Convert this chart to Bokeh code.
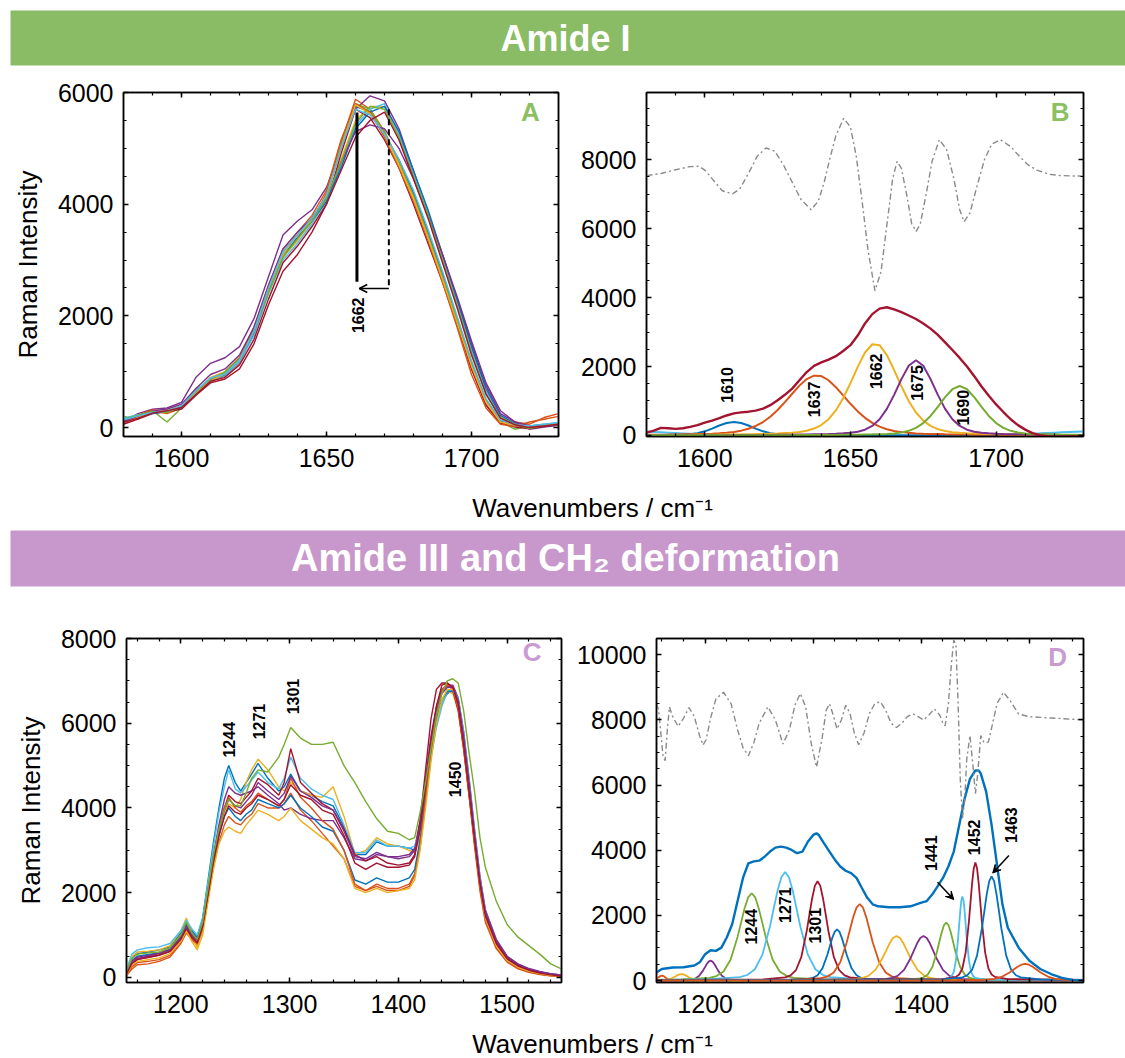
import numpy as np
from bokeh.plotting import figure
from bokeh.layouts import column, row
from bokeh.models import Range1d, LinearAxis, FixedTicker, Arrow, VeeHead, OpenHead, CustomJSTickFormatter
from bokeh.core.properties import value
from bokeh.embed import file_html
from bokeh.resources import INLINE

FONT = "Liberation Sans"
BLUE, ORANGE, YELLOW, PURPLE = "#0072BD", "#D95319", "#EDB120", "#7E2F8E"
GREEN, CYAN, DARKRED = "#77AC30", "#4DBEEE", "#A2142F"
CYCLE = [BLUE, ORANGE, YELLOW, PURPLE, GREEN, CYAN, DARKRED]
BANNER_GREEN = "#89bc65"
BANNER_PURPLE = "#c897cb"
LETTER_GREEN = "#8bc063"
LETTER_PURPLE = "#c99bd0"
DERIV_GRAY = "#8a8a8a"

# ---------------- Panel A : Amide I spectra ----------------
a_wn = list(range(1580, 1731, 5))
a01 = [150, 200, 260, 300, 380, 650, 880, 950, 1200, 1750, 2500, 3150, 3450, 3750, 4150, 5000, 5750, 5650, 5250, 4800, 4200, 3500, 2750, 1950, 1150, 500, 120, 30, 10, 40, 70]
a02 = [80, 180, 300, 250, 350, 600, 850, 920, 1150, 1700, 2450, 3050, 3400, 3700, 4200, 5100, 5880, 5700, 5300, 4750, 4150, 3450, 2700, 1900, 1050, 420, 80, 100, 60, 180, 250]
a03 = [120, 220, 280, 320, 400, 650, 900, 1000, 1250, 1700, 2400, 3050, 3350, 3700, 4100, 4800, 5500, 5750, 5750, 5200, 4500, 3800, 3050, 2250, 1400, 650, 200, 50, 20, 40, 80]
a04 = [100, 250, 330, 350, 450, 900, 1150, 1250, 1450, 1950, 2700, 3450, 3700, 3900, 4300, 5000, 5700, 5940, 5850, 5350, 4600, 3850, 3100, 2300, 1500, 750, 250, 100, -30, 10, 40]
a05 = [200, 150, 300, 100, 350, 700, 800, 1000, 1250, 1750, 2450, 3150, 3450, 3750, 4150, 5050, 5800, 5700, 5300, 4750, 4150, 3450, 2700, 1950, 1150, 500, 100, -30, 30, 60, 40]
a06 = [170, 230, 270, 280, 370, 620, 850, 930, 1180, 1650, 2400, 3000, 3300, 3650, 4050, 4700, 5400, 5700, 5800, 5250, 4550, 3850, 3050, 2250, 1400, 650, 180, 60, 20, 50, 90]
a07 = [60, 150, 250, 280, 330, 580, 800, 870, 1050, 1500, 2200, 2800, 3100, 3500, 4000, 4900, 5700, 5550, 5150, 4650, 4000, 3300, 2600, 1850, 1050, 400, 80, 10, -20, 20, 50]
a08 = [130, 200, 250, 290, 360, 600, 860, 950, 1220, 1700, 2450, 3100, 3400, 3700, 4050, 4650, 5350, 5650, 5750, 5300, 4600, 3900, 3100, 2300, 1450, 700, 220, 70, 30, 50, 60]
a09 = [100, 220, 320, 280, 380, 640, 880, 980, 1250, 1800, 2550, 3200, 3500, 3800, 4250, 5150, 5800, 5650, 5200, 4650, 4050, 3350, 2600, 1800, 950, 350, 60, 20, 100, 150, 200]
a10 = [90, 180, 270, 310, 370, 620, 840, 960, 1220, 1720, 2480, 3100, 3450, 3720, 4150, 5000, 5780, 5620, 5250, 4700, 4100, 3400, 2650, 1880, 1100, 450, 100, 40, 20, 50, 70]
a11 = [110, 210, 300, 330, 420, 700, 950, 1050, 1300, 1800, 2550, 3200, 3500, 3750, 4100, 4750, 5300, 5420, 5350, 5000, 4450, 3800, 3100, 2350, 1550, 800, 300, 100, 30, 30, 50]
a12 = [150, 220, 290, 270, 380, 650, 870, 990, 1230, 1720, 2420, 3050, 3380, 3700, 4100, 4750, 5450, 5750, 5700, 5200, 4500, 3800, 3000, 2200, 1350, 600, 180, 60, -20, 40, 60]
a13 = [140, 210, 270, 300, 390, 660, 890, 960, 1210, 1730, 2500, 3150, 3450, 3750, 4150, 5000, 5700, 5600, 5250, 4800, 4250, 3550, 2800, 2000, 1200, 520, 140, 50, 30, 60, 90]
a14 = [90, 170, 260, 300, 360, 590, 830, 900, 1120, 1580, 2300, 2950, 3250, 3600, 4000, 4600, 5200, 5500, 5650, 5150, 4450, 3750, 2950, 2150, 1300, 600, 170, 50, 0, 30, 60]
a_spectra = [a01, a02, a03, a04, a05, a06, a07, a08, a09, a10, a11, a12, a13, a14]
a_marker_x = [1660.5, 1671.5]
a_marker_top = [5640, 5700]
a_marker_bottom = [2610, 2550]
a_label = ["1662"]

# ---------------- Panel B : Amide I band fit ----------------
b_wn = [1580 + 2.5 * k for k in range(61)]
b_sum = [80, 140, 220, 210, 190, 210, 250, 300, 370, 430, 500, 580, 640, 670, 690, 720, 780, 880, 1020, 1180,
         1360, 1600, 1840, 2020, 2120, 2200, 2300, 2450, 2620, 2900, 3250, 3520, 3680, 3720, 3660, 3580, 3480, 3380, 3250, 3100,
         2920, 2700, 2480, 2250, 2000, 1720, 1420, 1150, 900, 680, 470, 300, 170, 70, 10, -20, -30, -30, -20, -20, -10]
b_1610 = [5, 5, 6, 8, 12, 20, 35, 65, 120, 200, 290, 360, 390, 360, 290, 200, 120, 65, 35, 20,
          12, 8, 6, 5, 4, 4, 3, 3, 3, 2, 2, 2, 2, 2, 2, 2, 2, 2, 2, 1,
          1, 1, 1, 1, 1, 1, 1, 1, 1, 1, 1, 1, 1, 1, 1, 1, 1, 1, 1, 1, 1]
b_1637 = [19, 21, 23, 25, 28, 32, 36, 41, 46, 52, 61, 80, 103, 140, 194, 275, 389, 544, 739, 967,
          1211, 1446, 1635, 1735, 1724, 1602, 1401, 1162, 919, 698, 511, 364, 256, 181, 131, 97, 77, 59, 51, 45,
          40, 35, 31, 28, 25, 23, 21, 19, 18, 17, 16, 15, 14, 13, 12, 12, 11, 10, 10, 9, 9]
b_1662 = [12, 13, 14, 15, 16, 17, 18, 20, 21, 23, 25, 28, 30, 33, 37, 41, 46, 52, 58, 69,
          80, 101, 139, 200, 302, 471, 727, 1081, 1517, 1989, 2406, 2646, 2619, 2333, 1896, 1426, 1001, 667, 431, 277,
          184, 131, 96, 77, 66, 57, 51, 45, 40, 36, 32, 29, 26, 24, 22, 20, 19, 17, 16, 15, 14]
b_1675 = [5, 6, 6, 6, 7, 7, 7, 8, 8, 9, 9, 10, 10, 11, 12, 13, 14, 16, 18, 20,
          22, 25, 28, 33, 37, 43, 51, 61, 78, 110, 168, 277, 471, 772, 1178, 1635, 2021, 2180, 2021, 1635,
          1178, 772, 471, 277, 168, 110, 78, 61, 51, 43, 37, 33, 28, 25, 22, 20, 18, 16, 14, 13, 12]
b_1690 = [3, 3, 4, 4, 4, 4, 4, 5, 5, 5, 5, 6, 6, 6, 7, 7, 7, 8, 8, 9,
          9, 10, 11, 12, 14, 15, 17, 19, 21, 24, 28, 32, 37, 46, 58, 87, 135, 220, 360, 565,
          828, 1111, 1342, 1435, 1342, 1111, 828, 565, 360, 220, 135, 87, 58, 46, 37, 32, 28, 24, 21, 19, 17]
b_base = [110, 100, 90, 80, 70, 60, 50, 40, 30, 22, 15, 10, 8, 6, 5, 4, 4, 3, 3, 3,
          3, 3, 3, 3, 3, 3, 3, 3, 3, 3, 3, 3, 3, 3, 3, 3, 3, 3, 3, 3,
          4, 4, 5, 6, 7, 9, 11, 14, 18, 23, 29, 36, 44, 53, 62, 72, 82, 92, 101, 110, 118]
b_deriv_x = [1580, 1585, 1590, 1595, 1598, 1600, 1603, 1606, 1609.5, 1612, 1615, 1618, 1621, 1624, 1627, 1630, 1633, 1636.5, 1639, 1641,
             1643, 1645, 1647.7, 1650, 1652, 1654, 1656, 1658.4, 1660.5, 1662.5, 1664.5, 1666, 1667.5, 1669.5, 1671, 1672.6, 1674, 1676, 1678, 1680.5,
             1683, 1685.5, 1687.5, 1689, 1691, 1693.5, 1696, 1698.5, 1701.5, 1705, 1708, 1711, 1714, 1718, 1722, 1726, 1730]
b_deriv_y = [7540, 7600, 7710, 7800, 7810, 7700, 7400, 7100, 7010, 7150, 7600, 8100, 8340, 8250, 7850, 7350, 6850, 6550, 6800, 7350,
             8050, 8700, 9200, 8950, 8100, 6800, 5400, 4200, 4750, 6100, 7450, 7950, 7750, 6900, 6150, 5920, 6150, 7000, 7950, 8580,
             8300, 7450, 6550, 6200, 6450, 7250, 8000, 8450, 8580, 8380, 8100, 7850, 7700, 7580, 7540, 7530, 7525]
b_labels = ["1610", "1637", "1662", "1675", "1690"]
b_label_x = [1607.5, 1637.6, 1658.7, 1672.8, 1688.5]
b_label_y = [1465, 1048, 1862, 1523, 805]

# ---------------- Panel C : Amide III / CH2 spectra ----------------
c_wn = [1150, 1155, 1160, 1170, 1180, 1190, 1200, 1205, 1210, 1215, 1220, 1225, 1230, 1235, 1240, 1244, 1250, 1255, 1260, 1265,
        1271, 1280, 1290, 1295, 1301, 1310, 1320, 1330, 1340, 1350, 1360, 1370, 1380, 1390, 1400, 1410, 1415, 1420, 1425, 1430,
        1435, 1440, 1445, 1450, 1455, 1460, 1465, 1470, 1475, 1480, 1490, 1500, 1510, 1520, 1530, 1540, 1550]
c01 = [150, 450, 560, 600, 650, 720, 1050, 1300, 1100, 950, 1400, 2300, 3200, 4000, 4700, 5000, 4600, 4400, 4600, 4800,
       5050, 4700, 4400, 4500, 4800, 4400, 4300, 4150, 4050, 3550, 2900, 2900, 3200, 3100, 3100, 3050, 3000, 3450, 4300, 5300,
       6000, 6500, 6700, 6800, 6500, 5700, 4600, 3400, 2300, 1500, 850, 480, 300, 190, 130, 80, 50]
c02 = [50, 200, 300, 320, 380, 480, 800, 1050, 900, 750, 1100, 1850, 2650, 3200, 3600, 3800, 3650, 3600, 3750, 3850,
       4100, 4000, 4000, 4100, 4350, 3950, 3700, 3400, 3100, 2800, 2150, 2050, 2200, 2100, 2100, 2200, 2450, 3100, 4100, 5300,
       6200, 6750, 6900, 6850, 6400, 5500, 4400, 3200, 2100, 1350, 700, 380, 220, 130, 80, 40, 20]
c03 = [120, 500, 600, 620, 650, 750, 1100, 1400, 1050, 700, 1150, 2050, 2900, 3500, 3900, 4100, 4000, 4200, 4600, 4900,
       5150, 4900, 4500, 4400, 4600, 4400, 4300, 4250, 4500, 3800, 2900, 3000, 3300, 3150, 3100, 3000, 2950, 3300, 4200, 5200,
       6000, 6500, 6750, 6700, 6300, 5400, 4300, 3200, 2150, 1400, 780, 420, 260, 160, 100, 60, 30]
c04 = [80, 350, 450, 500, 560, 650, 980, 1250, 1050, 900, 1300, 2100, 2900, 3600, 4200, 4500, 4350, 4300, 4350, 4400,
       4500, 4300, 4100, 3950, 4000, 3850, 3750, 3700, 3700, 3300, 2800, 2750, 2900, 2850, 2850, 2900, 3050, 3700, 4700, 5700,
       6400, 6800, 6900, 6900, 6600, 5800, 4700, 3500, 2400, 1600, 900, 500, 320, 210, 140, 90, 60]
c05 = [150, 450, 550, 580, 600, 700, 1000, 1300, 1050, 900, 1300, 2100, 2900, 3500, 3950, 4200, 4050, 4050, 4350, 4700,
       4900, 4850, 5200, 5500, 5900, 5650, 5500, 5500, 5550, 5000, 4600, 4150, 3750, 3450, 3400, 3250, 3300, 3900, 4600, 5400,
       6200, 6700, 7000, 7050, 6950, 6300, 5300, 4400, 3300, 2600, 1800, 1250, 950, 750, 550, 320, 200]
c06 = [200, 550, 650, 700, 720, 800, 1100, 1350, 1150, 1000, 1400, 2250, 3100, 3900, 4500, 4900, 4450, 4350, 4500, 4650,
       4850, 4600, 4450, 4700, 5200, 4700, 4450, 4300, 4200, 3600, 2950, 2950, 3250, 3100, 3100, 3050, 3100, 3500, 4300, 5200,
       5900, 6400, 6750, 6800, 6600, 5800, 4700, 3500, 2350, 1550, 850, 450, 290, 180, 120, 70, 40]
c07 = [50, 300, 420, 480, 530, 620, 920, 1200, 950, 800, 1200, 2000, 2800, 3500, 4000, 4300, 4150, 4100, 4250, 4400,
       4700, 4550, 4300, 4600, 5400, 4600, 4350, 4100, 3950, 3500, 2900, 2750, 2850, 2700, 2650, 2700, 2900, 3700, 4900, 6100,
       6800, 6950, 6950, 6800, 6300, 5400, 4300, 3200, 2200, 1500, 850, 470, 290, 180, 110, 60, 30]
c08 = [120, 400, 500, 540, 580, 660, 950, 1200, 1000, 880, 1250, 2000, 2750, 3350, 3800, 4000, 3800, 3700, 3850, 3950,
       4200, 4100, 4000, 4100, 4300, 4000, 3800, 3550, 3450, 3000, 2300, 2200, 2350, 2250, 2250, 2350, 2550, 3250, 4250, 5300,
       6100, 6550, 6750, 6750, 6450, 5600, 4500, 3300, 2200, 1450, 780, 420, 260, 160, 100, 60, 30]
c09 = [30, 250, 350, 380, 420, 520, 850, 1100, 950, 800, 1150, 1950, 2800, 3500, 4000, 4250, 4000, 3900, 4050, 4150,
       4350, 4200, 4050, 4200, 4700, 4250, 4000, 3700, 3500, 3000, 2200, 2050, 2150, 2050, 2050, 2150, 2400, 3100, 4200, 5400,
       6300, 6800, 6900, 6800, 6350, 5400, 4300, 3100, 2050, 1300, 680, 360, 200, 120, 70, 40, 20]
c10 = [60, 300, 380, 420, 460, 560, 850, 1100, 850, 650, 1000, 1800, 2550, 3150, 3450, 3550, 3450, 3400, 3600, 3750,
       3950, 3850, 3700, 3800, 4000, 3700, 3500, 3300, 3150, 2800, 2100, 2000, 2100, 2000, 2050, 2100, 2300, 3000, 4000, 5100,
       6000, 6550, 6800, 6800, 6500, 5600, 4500, 3300, 2200, 1400, 750, 400, 240, 150, 90, 50, 30]
c11 = [100, 380, 480, 520, 570, 660, 960, 1230, 1000, 870, 1250, 2050, 2850, 3500, 3950, 4200, 4050, 4000, 4150, 4300,
       4600, 4400, 4200, 4350, 4750, 4400, 4250, 4050, 3950, 3450, 2850, 2800, 2950, 2850, 2800, 2850, 3000, 3600, 4600, 5600,
       6300, 6700, 6850, 6850, 6550, 5700, 4600, 3400, 2300, 1550, 880, 490, 310, 200, 130, 80, 50]
c12 = [80, 330, 430, 470, 520, 610, 900, 1150, 950, 820, 1200, 1950, 2750, 3350, 3800, 4050, 3900, 3850, 4000, 4100,
       4300, 4200, 4050, 4200, 4550, 4300, 4200, 3950, 3850, 3350, 2700, 2550, 2700, 2600, 2600, 2650, 2850, 3500, 4500, 5600,
       6400, 6900, 6950, 6850, 6450, 5500, 4400, 3250, 2200, 1450, 800, 440, 270, 170, 100, 60, 30]
c_spectra = [c01, c02, c03, c04, c06, c07, c08, c09, c10, c11, c12, c05]
c_colors = [BLUE, ORANGE, YELLOW, PURPLE, CYAN, DARKRED, BLUE, ORANGE, YELLOW, PURPLE, DARKRED, GREEN]
c_labels = ["1244", "1271", "1301", "1450"]
c_label_x = [1244, 1272, 1303, 1452]
c_label_y = [5610, 6040, 6630, 4675]

# ---------------- Panel D : Amide III / CH2 band fit ----------------
d_sum_x = [1155, 1160, 1170, 1180, 1190, 1195, 1200, 1205, 1210, 1215, 1220, 1225, 1230, 1235, 1240, 1245, 1250, 1255, 1260, 1265,
           1270, 1275, 1280, 1285, 1290, 1295, 1300, 1303, 1305, 1310, 1315, 1320, 1325, 1330, 1335, 1340, 1345, 1350, 1355, 1360,
           1370, 1380, 1390, 1400, 1405, 1410, 1415, 1420, 1425, 1430, 1435, 1440, 1445, 1450, 1453, 1455, 1460, 1465, 1470, 1475,
           1480, 1490, 1500, 1510, 1520, 1530, 1540, 1550]
d_sum_y = [250, 355, 400, 410, 460, 560, 810, 930, 910, 1010, 1320, 1730, 2440, 3150, 3600, 3660, 3680, 3800, 3960, 4080,
           4110, 4080, 4010, 3910, 3960, 4260, 4470, 4520, 4470, 4210, 3960, 3710, 3500, 3370, 3300, 3150, 2840, 2540, 2340, 2280,
           2250, 2250, 2280, 2390, 2440, 2640, 2890, 3150, 3500, 3960, 4770, 5580, 6190, 6450, 6450, 6350, 5790, 4770, 3550, 2340,
           1620, 1010, 610, 355, 200, 80, 20, 0]
d_deriv_x = [1155, 1157, 1159, 1161, 1163, 1165, 1167, 1170, 1175, 1180, 1185, 1190, 1195, 1198, 1201, 1205, 1210, 1217, 1224, 1230,
             1235, 1240, 1245, 1250, 1258, 1265, 1272, 1278, 1283, 1288, 1293, 1298, 1303, 1308, 1312, 1315, 1318, 1322, 1326, 1330,
             1334, 1338, 1342, 1347, 1352, 1357, 1362, 1367, 1372, 1377, 1382, 1387, 1392, 1397, 1402, 1407, 1412, 1417, 1420, 1422,
             1425, 1428, 1430, 1432, 1434, 1436, 1438, 1440, 1442, 1445, 1448, 1450, 1452, 1455, 1458, 1462, 1466, 1470, 1476, 1482,
             1490, 1500, 1510, 1520, 1530, 1540, 1550]
d_deriv_y = [8500, 8300, 7600, 6900, 6750, 7700, 8400, 8100, 7800, 8050, 8380, 8100, 7500, 7230, 7400, 8050, 8650, 8850, 8500, 7700,
             7150, 6900, 7300, 7900, 8400, 8000, 7260, 7700, 8450, 8810, 8400, 7300, 6550, 7400, 8300, 8500, 8200, 7720, 8000, 8450,
             8200, 7600, 7240, 7600, 8200, 8500, 8560, 8300, 7900, 7770, 7900, 8100, 8190, 8100, 8000, 8150, 8340, 8150, 7900, 7820,
             8500, 9800, 10450, 10300, 8500, 6200, 4980, 5500, 6800, 7520, 6500, 5740, 6300, 7520, 7300, 7320, 7900, 8500, 8850, 8600,
             8180, 8100, 8080, 8060, 8040, 8020, 8000]
d_b01_x = [1140, 1148, 1150, 1152, 1154, 1156, 1157, 1158, 1159, 1160, 1161, 1162, 1163, 1164, 1166, 1168, 1170, 1172, 1180]
d_b01_y = [2, 5, 8, 16, 36, 75, 100, 124, 143, 150, 143, 124, 100, 75, 36, 16, 8, 5, 2]
d_b02_x = [1143, 1157, 1160.5, 1164, 1167.5, 1171, 1172.8, 1174.5, 1176.3, 1178, 1179.8, 1181.5, 1183.3, 1185, 1188.5, 1192, 1195.5, 1199, 1213]
d_b02_y = [2, 6, 10, 21, 48, 100, 133, 166, 191, 200, 191, 166, 133, 100, 48, 21, 10, 6, 2]
d_b03_x = [1170, 1184, 1187.5, 1191, 1194.5, 1198, 1199.8, 1201.5, 1203.3, 1205, 1206.8, 1208.5, 1210.3, 1212, 1215.5, 1219, 1222.5, 1226, 1240]
d_b03_y = [7, 19, 31, 63, 146, 305, 406, 506, 581, 610, 581, 506, 406, 305, 146, 63, 31, 19, 7]
d_b04_x = [1178, 1204, 1210.5, 1217, 1223.5, 1230, 1233.3, 1236.5, 1239.8, 1243, 1246.3, 1249.5, 1252.8, 1256, 1262.5, 1269, 1275.5, 1282, 1308]
d_b04_y = [32, 83, 137, 279, 641, 1340, 1785, 2222, 2554, 2680, 2554, 2222, 1785, 1340, 641, 279, 137, 83, 32]
d_b05_x = [1204, 1232, 1239, 1246, 1253, 1260, 1263.5, 1267, 1270.5, 1274, 1277.5, 1281, 1284.5, 1288, 1295, 1302, 1309, 1316, 1344]
d_b05_y = [40, 103, 170, 346, 796, 1665, 2218, 2761, 3173, 3330, 3173, 2761, 2218, 1665, 796, 346, 170, 103, 40]
d_b06_x = [1254, 1274, 1279, 1284, 1289, 1294, 1296.5, 1299, 1301.5, 1304, 1306.5, 1309, 1311.5, 1314, 1319, 1324, 1329, 1334, 1354]
d_b06_y = [37, 95, 156, 317, 729, 1525, 2031, 2528, 2907, 3050, 2907, 2528, 2031, 1525, 729, 317, 156, 95, 37]
d_b07_x = [1277, 1295, 1299.5, 1304, 1308.5, 1313, 1315.3, 1317.5, 1319.8, 1322, 1324.3, 1326.5, 1328.8, 1331, 1335.5, 1340, 1344.5, 1349, 1367]
d_b07_y = [19, 49, 80, 163, 375, 785, 1046, 1302, 1496, 1570, 1496, 1302, 1046, 785, 375, 163, 80, 49, 19]
d_b08_x = [1283, 1307, 1313, 1319, 1325, 1331, 1334, 1337, 1340, 1343, 1346, 1349, 1352, 1355, 1361, 1367, 1373, 1379, 1403]
d_b08_y = [28, 73, 120, 244, 562, 1175, 1565, 1948, 2240, 2350, 2240, 1948, 1565, 1175, 562, 244, 120, 73, 28]
d_b09_x = [1312, 1338, 1344.5, 1351, 1357.5, 1364, 1367.3, 1370.5, 1373.8, 1377, 1380.3, 1383.5, 1386.8, 1390, 1396.5, 1403, 1409.5, 1416, 1442]
d_b09_y = [16, 42, 70, 142, 327, 685, 912, 1136, 1306, 1370, 1306, 1136, 912, 685, 327, 142, 70, 42, 16]
d_b10_x = [1342, 1366, 1372, 1378, 1384, 1390, 1393, 1396, 1399, 1402, 1405, 1408, 1411, 1414, 1420, 1426, 1432, 1438, 1462]
d_b10_y = [16, 42, 70, 142, 327, 685, 912, 1136, 1306, 1370, 1306, 1136, 912, 685, 327, 142, 70, 42, 16]
d_b11_x = [1380.5, 1397.5, 1401.8, 1406, 1410.3, 1414.5, 1416.6, 1418.8, 1420.9, 1423, 1425.1, 1427.3, 1429.4, 1431.5, 1435.8, 1440, 1444.3, 1448.5, 1465.5]
d_b11_y = [21, 55, 91, 185, 425, 890, 1185, 1476, 1696, 1780, 1696, 1476, 1185, 890, 425, 185, 91, 55, 21]
d_b12_x = [1418, 1426, 1428, 1430, 1432, 1434, 1435, 1436, 1437, 1438, 1439, 1440, 1441, 1442, 1444, 1446, 1448, 1450, 1458]
d_b12_y = [31, 80, 132, 268, 617, 1290, 1718, 2139, 2459, 2580, 2459, 2139, 1718, 1290, 617, 268, 132, 80, 31]
d_b13_x = [1420, 1432, 1435, 1438, 1441, 1444, 1445.5, 1447, 1448.5, 1450, 1451.5, 1453, 1454.5, 1456, 1459, 1462, 1465, 1468, 1480]
d_b13_y = [43, 112, 185, 376, 865, 1810, 2411, 3001, 3450, 3620, 3450, 3001, 2411, 1810, 865, 376, 185, 112, 43]
d_b14_x = [1420, 1438, 1442.5, 1447, 1451.5, 1456, 1458.3, 1460.5, 1462.8, 1465, 1467.3, 1469.5, 1471.8, 1474, 1478.5, 1483, 1487.5, 1492, 1510]
d_b14_y = [38, 99, 163, 333, 765, 1600, 2131, 2653, 3050, 3200, 3050, 2653, 2131, 1600, 765, 333, 163, 99, 38]
d_b15_x = [1426, 1454, 1461, 1468, 1475, 1482, 1485.5, 1489, 1492.5, 1496, 1499.5, 1503, 1506.5, 1510, 1517, 1524, 1531, 1538, 1566]
d_b15_y = [6, 16, 26, 53, 122, 255, 340, 423, 486, 510, 486, 423, 340, 255, 122, 53, 26, 16, 6]
d_bands = [(d_b01_x, d_b01_y), (d_b02_x, d_b02_y), (d_b03_x, d_b03_y), (d_b04_x, d_b04_y), (d_b05_x, d_b05_y),
           (d_b06_x, d_b06_y), (d_b07_x, d_b07_y), (d_b08_x, d_b08_y), (d_b09_x, d_b09_y), (d_b10_x, d_b10_y),
           (d_b11_x, d_b11_y), (d_b12_x, d_b12_y), (d_b13_x, d_b13_y), (d_b14_x, d_b14_y), (d_b15_x, d_b15_y)]
d_labels = ["1244", "1271", "1301", "1441", "1452", "1463"]
d_label_x = [1242, 1274, 1302, 1409, 1449, 1483]
d_label_y = [1655, 2315, 1685, 3909, 4396, 4772]


# ---------------- helpers ----------------
def panel(frame_w, frame_h, bl, br, bt, bb, xr, yr, xticks, xminor, yticks, yminor, ylabel=None):
    p = figure(frame_width=frame_w, frame_height=frame_h,
               x_range=Range1d(*xr), y_range=Range1d(*yr),
               min_border_left=bl, min_border_right=br, min_border_top=bt, min_border_bottom=bb,
               x_axis_location=None, y_axis_location=None,
               toolbar_location=None, output_backend="svg")
    p.grid.visible = False
    p.outline_line_color = "black"
    p.outline_line_width = 1.5
    for side in ("below", "above", "left", "right"):
        is_x = side in ("below", "above")
        ax = LinearAxis(ticker=FixedTicker(ticks=xticks if is_x else yticks,
                                           minor_ticks=xminor if is_x else yminor))
        ax.axis_line_color = "black"
        ax.axis_line_width = 1.5
        ax.major_tick_in = 5
        ax.major_tick_out = 0
        ax.minor_tick_in = 3
        ax.minor_tick_out = 0
        ax.major_tick_line_color = "black"
        ax.minor_tick_line_color = "black"
        ax.major_tick_line_width = 1.5
        ax.minor_tick_line_width = 1.2
        if side in ("below", "left"):
            ax.major_label_text_font = FONT
            ax.major_label_text_font_size = "25px"
            ax.major_label_text_color = "black"
            ax.major_label_standoff = 12 if side == "below" else 10
            if side == "left" and ylabel:
                ax.axis_label = ylabel
                ax.axis_label_text_font = FONT
                ax.axis_label_text_font_size = "26px"
                ax.axis_label_text_font_style = "normal"
                ax.axis_label_text_color = "black"
                ax.axis_label_standoff = 12
        else:
            ax.formatter = CustomJSTickFormatter(code="return '';")
            ax.major_label_text_font_size = "1px"
            ax.major_label_standoff = 0
        p.add_layout(ax, side)
    return p


def vlabels(p, xs, ys, texts):
    p.text(x=xs, y=ys, text=texts, angle=np.pi / 2, text_align="center", text_baseline="middle",
           text_font=value(FONT), text_font_style="bold", text_font_size="16px", text_color="black")


def letter(p, x, y, t, color):
    p.text(x=[x], y=[y], text=[t], text_align="center", text_baseline="middle",
           text_font=value(FONT), text_font_style="bold", text_font_size="26px", text_color=color)


def strip(h):
    f = figure(width=1125, height=h, x_range=Range1d(0, 1125), y_range=Range1d(h, 0),
               min_border=0, toolbar_location=None, output_backend="svg",
               x_axis_location=None, y_axis_location=None)
    f.grid.visible = False
    f.outline_line_color = None
    return f


DERIV_DASH = "6 3 2 3"

# ---------------- banner 1 ----------------
top = strip(80)
top.quad(left=[10], right=[1125], top=[10], bottom=[65], fill_color=BANNER_GREEN, line_color=None)
top.text(x=[565], y=[38], text=["Amide I"], text_align="center", text_baseline="middle",
         text_font=value(FONT), text_font_style="bold", text_font_size="36px", text_color="white")

# ---------------- Panel A ----------------
pA = panel(435, 344, 123, 12, 12, 44, (1580, 1730), (-160, 6000),
           [1600, 1650, 1700], list(range(1580, 1731, 10)),
           [0, 2000, 4000, 6000], list(range(0, 6001, 500)), "Raman Intensity")
for i, ys in enumerate(a_spectra):
    pA.line(a_wn, ys, line_color=CYCLE[i % 7], line_width=1.4)
pA.segment(x0=a_marker_x[:1], y0=a_marker_bottom[:1], x1=a_marker_x[:1], y1=a_marker_top[:1],
           line_color="black", line_width=3)
pA.segment(x0=a_marker_x[1:], y0=a_marker_bottom[1:], x1=a_marker_x[1:], y1=a_marker_top[1:],
           line_color="black", line_width=2, line_dash="6 4")
pA.add_layout(Arrow(end=OpenHead(size=8, line_color="black", line_width=1.5),
                    x_start=a_marker_x[1], y_start=2490, x_end=a_marker_x[0] + 0.8, y_end=2490,
                    line_color="black", line_width=1.5))
vlabels(pA, [1661], [2010], a_label)
letter(pA, 1720.3, 5642, "A", LETTER_GREEN)

# ---------------- Panel B ----------------
pB = panel(437, 344, 76, 42, 12, 44, (1580, 1730), (-30, 9950),
           [1600, 1650, 1700], list(range(1580, 1731, 10)),
           [0, 2000, 4000, 6000, 8000], list(range(0, 9951, 500)))
for ys, col in [(b_base, CYAN), (b_1610, BLUE), (b_1637, ORANGE), (b_1662, YELLOW), (b_1675, PURPLE), (b_1690, GREEN)]:
    pB.line(b_wn, ys, line_color=col, line_width=2)
pB.line(b_wn, b_sum, line_color=DARKRED, line_width=2.4)
pB.line(b_deriv_x, b_deriv_y, line_color=DERIV_GRAY, line_width=1.4, line_dash=DERIV_DASH)
vlabels(pB, b_label_x, b_label_y, b_labels)
letter(pB, 1722, 9370, "B", LETTER_GREEN)

# ---------------- banner 2 + first x label ----------------
mid = strip(120)
mid.text(x=[592], y=[27], text=["Wavenumbers / cm\u207b\u00b9"], text_align="center", text_baseline="middle",
         text_font=value(FONT), text_font_size="26px", text_color="black")
mid.quad(left=[10], right=[1125], top=[50], bottom=[106], fill_color=BANNER_PURPLE, line_color=None)
mid.text(x=[565], y=[77], text=["Amide III and CH\u2082 deformation"], text_align="center", text_baseline="middle",
         text_font=value(FONT), text_font_style="bold", text_font_size="38px", text_color="white")

# ---------------- Panel C ----------------
pC = panel(435, 344, 126, 7, 38, 44, (1150, 1550), (-120, 8000),
           [1200, 1300, 1400, 1500], list(range(1160, 1551, 20)),
           [0, 2000, 4000, 6000, 8000], list(range(0, 8001, 500)), "Raman Intensity")
for ys, col in zip(c_spectra, c_colors):
    pC.line(c_wn, ys, line_color=col, line_width=1.4)
vlabels(pC, c_label_x, c_label_y, c_labels)
letter(pC, 1523, 7670, "C", LETTER_PURPLE)

# ---------------- Panel D ----------------
pD = panel(427, 344, 88, 42, 38, 44, (1155, 1550), (-60, 10500),
           [1200, 1300, 1400, 1500], list(range(1160, 1551, 20)),
           [0, 2000, 4000, 6000, 8000, 10000], list(range(0, 10501, 500)))
d_colors = [ORANGE, YELLOW, PURPLE, GREEN, CYAN, DARKRED, BLUE, ORANGE, YELLOW, PURPLE, GREEN, CYAN, DARKRED, BLUE, ORANGE]
for (bx, by), col in zip(d_bands, d_colors):
    pD.line([1100] + bx + [1600], [0] + by + [0], line_color=col, line_width=1.8)
pD.line(d_sum_x, d_sum_y, line_color=BLUE, line_width=2.4)
pD.line(d_deriv_x, d_deriv_y, line_color=DERIV_GRAY, line_width=1.4, line_dash=DERIV_DASH)
vlabels(pD, d_label_x, d_label_y, d_labels)
pD.add_layout(Arrow(end=VeeHead(size=8, fill_color="black", line_color="black"),
                    x_start=1415, y_start=3015, x_end=1430, y_end=2487, line_color="black", line_width=1.5))
pD.add_layout(Arrow(end=VeeHead(size=8, fill_color="black", line_color="black"),
                    x_start=1481, y_start=3838, x_end=1466, y_end=3300, line_color="black", line_width=1.5))
letter(pD, 1526, 9920, "D", LETTER_PURPLE)

# ---------------- bottom x label ----------------
bot = strip(32)
bot.text(x=[592], y=[17], text=["Wavenumbers / cm\u207b\u00b9"], text_align="center", text_baseline="middle",
         text_font=value(FONT), text_font_size="26px", text_color="black")

layout = column(top, row(pA, pB), mid, row(pC, pD), bot)
open("out.html", "w").write(file_html(layout, INLINE, "Raman spectra"))
